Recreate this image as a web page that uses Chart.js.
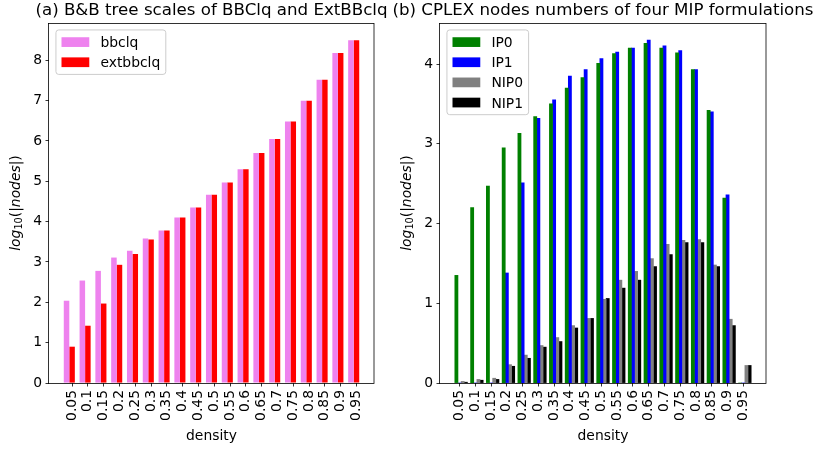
<!DOCTYPE html>
<html>
<head>
<meta charset="utf-8">
<script src="https://cdn.jsdelivr.net/npm/chart.js@4.4.1/dist/chart.umd.min.js"></script>
<style>
  html, body { margin: 0; padding: 0; background: #fff; }
  #wrap { position: relative; width: 815px; height: 450px; }
  #wrap canvas { position: absolute; left: 0; top: 0; }
</style>
</head>
<body>
<div id="wrap">
  <canvas id="left" width="815" height="450"></canvas>
  <canvas id="right" width="815" height="450"></canvas>
</div>
<script>
// Graph densities on the x axis of both panels
const densities = ['0.05', '0.1', '0.15', '0.2', '0.25', '0.3', '0.35', '0.4', '0.45', '0.5',
                   '0.55', '0.6', '0.65', '0.7', '0.75', '0.8', '0.85', '0.9', '0.95'];

// (a) log10 of the B&B tree size
const bbclq    = [2.04, 2.54, 2.78, 3.11, 3.28, 3.58, 3.78, 4.10, 4.35, 4.67,
                  4.97, 5.30, 5.70, 6.05, 6.48, 7.00, 7.52, 8.18, 8.50];
const extbbclq = [0.90, 1.42, 1.97, 2.93, 3.20, 3.56, 3.78, 4.10, 4.35, 4.67,
                  4.97, 5.30, 5.70, 6.05, 6.48, 7.00, 7.52, 8.18, 8.50];

// (b) log10 of the CPLEX node counts
const ip0  = [1.35, 2.20, 2.47, 2.95, 3.13, 3.34, 3.50, 3.70, 3.83, 4.01,
              4.13, 4.20, 4.26, 4.20, 4.14, 3.93, 3.42, 2.32, 0];
const ip1  = [0, 0, 0, 1.38, 2.51, 3.32, 3.55, 3.85, 3.93, 4.07,
              4.15, 4.20, 4.30, 4.23, 4.17, 3.93, 3.40, 2.36, 0];
const nip0 = [0.02, 0.045, 0.06, 0.23, 0.35, 0.47, 0.57, 0.72, 0.81, 1.05,
              1.29, 1.40, 1.56, 1.74, 1.79, 1.80, 1.48, 0.80, 0.22];
const nip1 = [0.01, 0.035, 0.045, 0.21, 0.31, 0.45, 0.52, 0.69, 0.81, 1.06,
              1.19, 1.29, 1.46, 1.61, 1.76, 1.76, 1.46, 0.72, 0.22];

// y tick labels of each panel
const leftYTicks  = [0, 1, 2, 3, 4, 5, 6, 7, 8];
const rightYTicks = [0, 1, 2, 3, 4];

const FONT = 'DejaVu Sans';
const FS = 13.89;        // 10 pt
const TITLE_FS = 16.67;  // 12 pt

Chart.defaults.font.family = FONT;
Chart.defaults.color = '#000';

const points = values => values.map((y, i) => ({ x: i, y }));

// x limits: bar extent plus a 5% margin on each side
function xLimits(width, slotsBefore, slotsAfter) {
  const lo = -(slotsBefore + 0.5) * width;
  const hi = (densities.length - 1) + (slotsAfter + 0.5) * width;
  const m = 0.05 * (hi - lo);
  return [lo - m, hi + m];
}

const tickGrid = {
  display: true, drawOnChartArea: false, drawTicks: true,
  tickLength: 3.5, color: '#000', lineWidth: 0.8, offset: false
};

function buildScales(xlim, ymax, yticks) {
  return {
    x: {
      type: 'linear', min: xlim[0], max: xlim[1], offset: false,
      afterBuildTicks: s => { s.ticks = densities.map((_, i) => ({ value: i })); },
      afterFit: s => { s.height = 67; s.paddingLeft = 0; s.paddingRight = 0; },
      grid: tickGrid,
      border: { display: false },
      ticks: {
        autoSkip: false, maxRotation: 90, minRotation: 90, padding: 3.5,
        color: '#000', font: { family: FONT, size: FS },
        callback: v => densities[v]
      }
    },
    y: {
      min: 0, max: ymax,
      afterBuildTicks: s => { s.ticks = yticks.map(v => ({ value: v })); },
      afterFit: s => { s.width = 49; s.paddingTop = 0; s.paddingBottom = 0; },
      grid: tickGrid,
      border: { display: false },
      ticks: {
        padding: 3.5, color: '#000', font: { family: FONT, size: FS },
        callback: v => String(v)
      }
    }
  };
}

// y label: log_{10}(|nodes|) set like math text
const yLabelParts = [
  { t: 'log', italic: true },
  { t: '10', sub: true },
  { t: '(|', italic: false },
  { t: 'nodes', italic: true },
  { t: '|)', italic: false }
];

function partFont(p) {
  if (p.sub) return `${(FS * 0.7).toFixed(2)}px "${FONT}"`;
  return `${p.italic ? 'italic ' : ''}${FS}px "${FONT}"`;
}

function drawYLabel(ctx, baselineX, centerY) {
  ctx.save();
  ctx.translate(baselineX, centerY);
  ctx.rotate(-Math.PI / 2);
  let total = 0;
  const widths = yLabelParts.map(p => { ctx.font = partFont(p); const w = ctx.measureText(p.t).width; total += w; return w; });
  let x = -total / 2;
  ctx.textAlign = 'left';
  ctx.textBaseline = 'alphabetic';
  ctx.fillStyle = '#000';
  yLabelParts.forEach((p, i) => {
    ctx.font = partFont(p);
    ctx.fillText(p.t, x, p.sub ? 2.4 : 0);
    x += widths[i];
  });
  ctx.restore();
}

function drawLegend(chart) {
  const { ctx, chartArea: a } = chart;
  const items = chart.data.datasets.filter(d => d.label);
  const pad = 0.4 * FS, axPad = 0.5 * FS, hl = 2 * FS, hh = 0.7 * FS, tp = 0.8 * FS, ls = 0.5 * FS;
  const rowH = 13.2;
  ctx.save();
  ctx.font = `${FS}px "${FONT}"`;
  const tw = Math.max(...items.map(d => ctx.measureText(d.label).width));
  const w = pad * 2 + hl + tp + tw;
  const h = pad * 2 + items.length * rowH + (items.length - 1) * ls;
  const x0 = a.left + axPad, y0 = a.top + axPad;
  const r = 0.2 * FS;
  ctx.beginPath();
  ctx.moveTo(x0 + r, y0);
  ctx.arcTo(x0 + w, y0, x0 + w, y0 + h, r);
  ctx.arcTo(x0 + w, y0 + h, x0, y0 + h, r);
  ctx.arcTo(x0, y0 + h, x0, y0, r);
  ctx.arcTo(x0, y0, x0 + w, y0, r);
  ctx.closePath();
  ctx.fillStyle = 'rgba(255,255,255,0.8)';
  ctx.fill();
  ctx.strokeStyle = '#cccccc';
  ctx.lineWidth = 1;
  ctx.stroke();
  items.forEach((d, i) => {
    const cy = y0 + pad + i * (rowH + ls) + rowH / 2;
    ctx.fillStyle = d.backgroundColor;
    ctx.fillRect(x0 + pad, cy - hh / 2, hl, hh);
    ctx.fillStyle = '#000';
    ctx.textAlign = 'left';
    ctx.textBaseline = 'alphabetic';
    ctx.fillText(d.label, x0 + pad + hl + tp, cy + 0.36 * FS);
  });
  ctx.restore();
}

// axes frame, title, axis labels and legend of one panel
const panelPlugin = {
  id: 'panel',
  afterDraw(chart, args, opts) {
    const { ctx, chartArea: a } = chart;
    ctx.save();
    ctx.strokeStyle = '#000';
    ctx.lineWidth = 0.8;
    ctx.strokeRect(Math.round(a.left) - 0.5, Math.round(a.top) + 0.5,
                   Math.round(a.right - a.left) + 0.5, Math.round(a.bottom - a.top));
    const cx = (a.left + a.right) / 2;
    ctx.fillStyle = '#000';
    ctx.textAlign = 'center';
    ctx.textBaseline = 'alphabetic';
    ctx.font = `${TITLE_FS}px "${FONT}"`;
    ctx.fillText(opts.title, cx, a.top - 8.3);
    ctx.font = `${FS}px "${FONT}"`;
    ctx.fillText(opts.xLabel, cx, 440);
    ctx.restore();
    drawYLabel(ctx, a.left - 29.5, (a.top + a.bottom) / 2);
    drawLegend(chart);
  }
};

const common = {
  responsive: false,
  animation: false,
  devicePixelRatio: 1,
  events: [],
  plugins: { legend: { display: false }, tooltip: { enabled: false }, title: { display: false } }
};

// (a) two bars per density, tick centred under the red bar
const leftWidth = 0.35;
new Chart(document.getElementById('left'), {
  type: 'bar',
  data: {
    datasets: [
      { label: 'bbclq', data: points(bbclq), backgroundColor: '#ee82ee' },
      { label: 'extbbclq', data: points(extbbclq), backgroundColor: '#ff0000' },
      { label: '', data: [], backgroundColor: 'rgba(0,0,0,0)' }   // empty slot after the pair
    ]
  },
  options: Object.assign({}, common, {
    layout: { padding: { left: 0, top: 23, right: 441, bottom: 0 } },
    datasets: { bar: { categoryPercentage: 3 * leftWidth, barPercentage: 1, borderWidth: 0 } },
    scales: buildScales(xLimits(leftWidth, 1, 0), 1.05 * Math.max(...bbclq, ...extbbclq), leftYTicks),
    plugins: Object.assign({}, common.plugins, {
      panel: { title: '(a) B&B tree scales of BBClq and ExtBBclq', xLabel: 'density' }
    })
  }),
  plugins: [panelPlugin]
});

// (b) four bars per density, tick centred under the IP1 bar
const rightWidth = 0.2;
new Chart(document.getElementById('right'), {
  type: 'bar',
  data: {
    datasets: [
      { label: '', data: [], backgroundColor: 'rgba(0,0,0,0)' },  // empty slot before the group
      { label: 'IP0', data: points(ip0), backgroundColor: '#008000' },
      { label: 'IP1', data: points(ip1), backgroundColor: '#0000ff' },
      { label: 'NIP0', data: points(nip0), backgroundColor: '#808080' },
      { label: 'NIP1', data: points(nip1), backgroundColor: '#000000' }
    ]
  },
  options: Object.assign({}, common, {
    layout: { padding: { left: 391, top: 23, right: 49, bottom: 0 } },
    datasets: { bar: { categoryPercentage: 5 * rightWidth, barPercentage: 1, borderWidth: 0 } },
    scales: buildScales(xLimits(rightWidth, 1, 2), 1.05 * Math.max(...ip0, ...ip1, ...nip0, ...nip1), rightYTicks),
    plugins: Object.assign({}, common.plugins, {
      panel: { title: '(b) CPLEX nodes numbers of four MIP formulations', xLabel: 'density' }
    })
  }),
  plugins: [panelPlugin]
});
</script>
</body>
</html>
